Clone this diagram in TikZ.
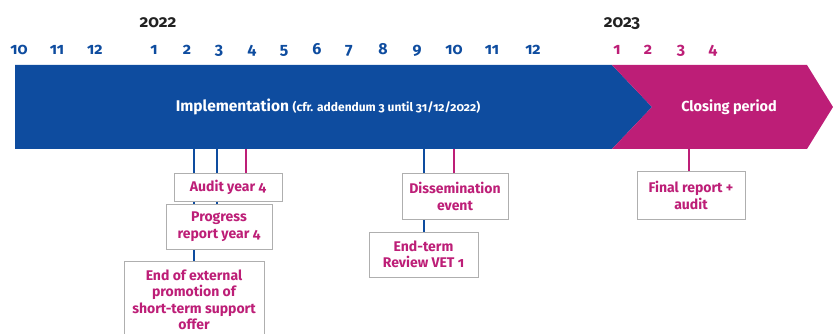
\documentclass[tikz,border=0pt]{standalone}
\usepackage{fontspec}
\setmainfont{Fira Sans}[Numbers=OldStyle]
\definecolor{eblue}{HTML}{0E4C9F}
\definecolor{emag}{HTML}{BD1E77}
\definecolor{egray}{HTML}{AFAFAF}
\definecolor{eyear}{HTML}{222222}
\begin{document}
\begin{tikzpicture}[x=1pt,y=-1pt,
  month/.style={anchor=base,font=\bfseries\fontsize{16}{18}\selectfont},
  year/.style={anchor=base,text=eyear,font=\bfseries\fontsize{17}{19}\selectfont},
  evbox/.style={draw=egray,line width=1pt,fill=white,text=emag,align=center,inner sep=0pt,
    font=\bfseries\fontsize{14}{16.5}\selectfont},
  bline/.style={draw=eblue,line width=2pt},
  mline/.style={draw=emag,line width=2pt}]
\useasboundingbox (0,0) rectangle (833,334);
\clip (0,0) rectangle (833,334);
% years
\node[year] (y22) at (158,28) {2022};
\node[year] (y23) at (622,28) {2023};
% months
\foreach \x/\m [count=\i] in {19/10,57/11,95/12,154/1,187/2,219/3,252/4,284/5,317/6,349/7,383/8,417/9,454/10,492/11,533/12}
  \node[month,text=eblue] (mb\i) at (\x,55) {\m};
\foreach \x/\m [count=\i] in {617/1,648/2,681/3,713/4}
  \node[month,text=emag] (mm\i) at (\x,55) {\m};
% bars
\fill[eblue] (15,65) -- (612,65) -- (652,107) -- (612,149) -- (15,149) -- cycle;
\fill[emag] (612,65) -- (807,65) -- (833,107) -- (807,149) -- (612,149) -- (652,107) -- cycle;
\node[text=white,anchor=base] (impl) at (328,112) {\bfseries\fontsize{15.5}{17}\selectfont Implementation \fontsize{12}{13}\selectfont(cfr. addendum 3 until 31/12/2022)};
\node[text=white,anchor=base] (clos) at (729,112) {\bfseries\fontsize{14.5}{16}\selectfont Closing period};
% anchor points on bar bottom
\coordinate (c1) at (194,149);
\coordinate (c2) at (217,149);
\coordinate (c3) at (246,149);
\coordinate (c4) at (424,149);
\coordinate (c5) at (454,149);
\coordinate (c6) at (689,149);
% boxes
\node[evbox,minimum width=140pt,minimum height=78pt] (endp) at (194,300) {End of external\\promotion of\\short-term support\\offer};
\node[evbox,minimum width=109pt,minimum height=45pt] (endt) at (423.5,254.5) {End-term\\Review VET 1};
% connectors
\draw[bline] (c1) -- (c1 |- endp.north);
\draw[bline] (c2) -- (c2 |- 0,204);
\draw[mline] (c3) -- (c3 |- 0,174);
\draw[bline] (c4) -- (c4 |- endt.north);
\draw[mline] (c5) -- (c5 |- 0,174);
\draw[mline] (c6) -- (c6 |- 0,172);
\node[evbox,minimum width=106pt,minimum height=45pt] (prog) at (219,226.5) {Progress\\report year 4};
\node[evbox,minimum width=108pt,minimum height=27pt] (audit) at (228,187.5) {Audit year 4};
\node[evbox,minimum width=106pt,minimum height=45pt] (diss) at (455,196.5) {Dissemination\\event};
\node[evbox,minimum width=108pt,minimum height=47pt] (final) at (691,195.5) {Final report +\\audit};
\end{tikzpicture}
\end{document}
